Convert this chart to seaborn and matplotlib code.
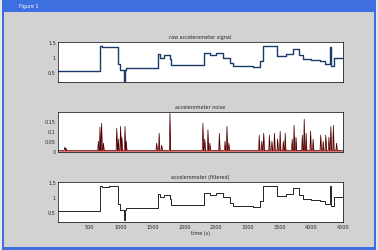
import numpy as np
import pandas as pd
import matplotlib
matplotlib.use("Agg")
import matplotlib.pyplot as plt
import seaborn as sns
from matplotlib.patches import Rectangle

# step signal: segment start times and levels
seg_t = [0, 660, 700, 800, 950, 976, 1040, 1060, 1082, 1583, 1620, 1680, 1767,
         1794, 2306, 2400, 2500, 2600, 2717, 2770, 3086, 3192, 3245, 3456,
         3600, 3720, 3800, 3878, 4000, 4142, 4221, 4290, 4310, 4353, 4500]
seg_level = [0.51, 1.37, 1.32, 1.35, 0.76, 0.55, 0.2, 0.55, 0.61, 1.09, 0.98,
             1.05, 0.92, 0.72, 1.14, 1.05, 1.12, 0.98, 0.78, 0.7, 0.66, 0.87,
             1.37, 1.03, 1.1, 1.28, 1.05, 0.94, 0.9, 0.85, 0.75, 1.35, 0.7,
             0.98, 0.98]

# noise spikes: position and height
spike_t = [110, 130, 640, 665, 690, 720, 930, 955, 990, 1010, 1060, 1080,
           1560, 1600, 1640, 1770, 2290, 2320, 2370, 2400, 2550, 2640, 2670,
           2700, 3180, 3220, 3250, 3340, 3380, 3420, 3470, 3510, 3560, 3590,
           3700, 3730, 3760, 3860, 3890, 3920, 3990, 4030, 4150, 4190, 4230,
           4280, 4310, 4350, 4400]
spike_h = [0.02, 0.015, 0.05, 0.12, 0.14, 0.04, 0.115, 0.06, 0.124, 0.07,
           0.124, 0.05, 0.04, 0.09, 0.03, 0.19, 0.14, 0.06, 0.107, 0.04, 0.09,
           0.05, 0.124, 0.04, 0.08, 0.05, 0.09, 0.08, 0.05, 0.09, 0.06, 0.1,
           0.05, 0.09, 0.06, 0.13, 0.07, 0.08, 0.16, 0.09, 0.1, 0.06, 0.08,
           0.05, 0.08, 0.07, 0.124, 0.13, 0.04]

titles = ["raw accelerometer signal", "accelerometer noise",
          "accelerometer (filtered)"]
x_ticks = [500, 1000, 1500, 2000, 2500, 3000, 3500, 4000, 4500]

sns.set_theme(style="white")
plt.rcParams.update({
    "font.family": ["DejaVu Sans"],
    "font.size": 3.5,
    "xtick.direction": "in",
    "ytick.direction": "in",
    "axes.edgecolor": "black",
    "axes.linewidth": 0.5,
})

fig = plt.figure(figsize=(3.78, 2.51), dpi=100)
fig.patch.set_facecolor("#e8e8e8")

# window chrome
fig.patches.append(Rectangle((0.005, 0.0), 0.99, 1.0, transform=fig.transFigure,
                             facecolor="#3d6fe0", edgecolor="none", zorder=-3))
fig.patches.append(Rectangle((0.011, 0.01), 0.978, 0.94, transform=fig.transFigure,
                             facecolor="#d2d2d2", edgecolor="none", zorder=-2))
fig.text(0.05, 0.973, "Figure 1", color="white", fontsize=3.5, va="center")

step = pd.DataFrame({"t": seg_t, "v": seg_level})

# spikes as narrow triangles
sx, sy = [0], [0.002]
for t, h in zip(spike_t, spike_h):
    sx += [t - 10, t, t + 10]
    sy += [0.004, h, 0.004]
sx.append(4500)
sy.append(0.002)
noise = pd.DataFrame({"t": sx, "v": sy})

boxes = [[0.153, 0.669, 0.754, 0.159],
         [0.153, 0.390, 0.754, 0.159],
         [0.153, 0.112, 0.754, 0.159]]

for i, box in enumerate(boxes):
    ax = fig.add_axes(box)
    ax.set_facecolor("white")
    if i == 1:
        ax.fill_between(noise["t"], 0, noise["v"], color="#d01818", lw=0)
        sns.lineplot(data=noise, x="t", y="v", ax=ax, color="#400000",
                     lw=0.5, estimator=None, sort=False)
        ax.set_ylim(-0.005, 0.195)
        ax.set_yticks([0, 0.05, 0.1, 0.15])
        ax.set_yticklabels(["0", "0.05", "0.1", "0.15"])
    else:
        col = "#1a3a6a" if i == 0 else "black"
        lw = 1.0 if i == 0 else 0.6
        sns.lineplot(data=step, x="t", y="v", ax=ax, color=col, lw=lw,
                     estimator=None, sort=False, drawstyle="steps-post")
        ax.set_ylim(0.15, 1.5)
        ax.set_yticks([0.5, 1, 1.5])
        ax.set_yticklabels(["0.5", "1", "1.5"])
    ax.set_xlim(0, 4500)
    ax.set_xticks(x_ticks)
    ax.set_title(titles[i], fontsize=3.5, pad=3)
    ax.set_ylabel("")
    ax.tick_params(length=2, width=0.4, pad=1.5, labelsize=3.5)
    if i == 2:
        ax.set_xlabel("time (s)", fontsize=3.5, labelpad=1)
    else:
        ax.set_xlabel("")
        ax.set_xticklabels([])

fig.savefig("out.png", dpi=100, facecolor=fig.get_facecolor())
